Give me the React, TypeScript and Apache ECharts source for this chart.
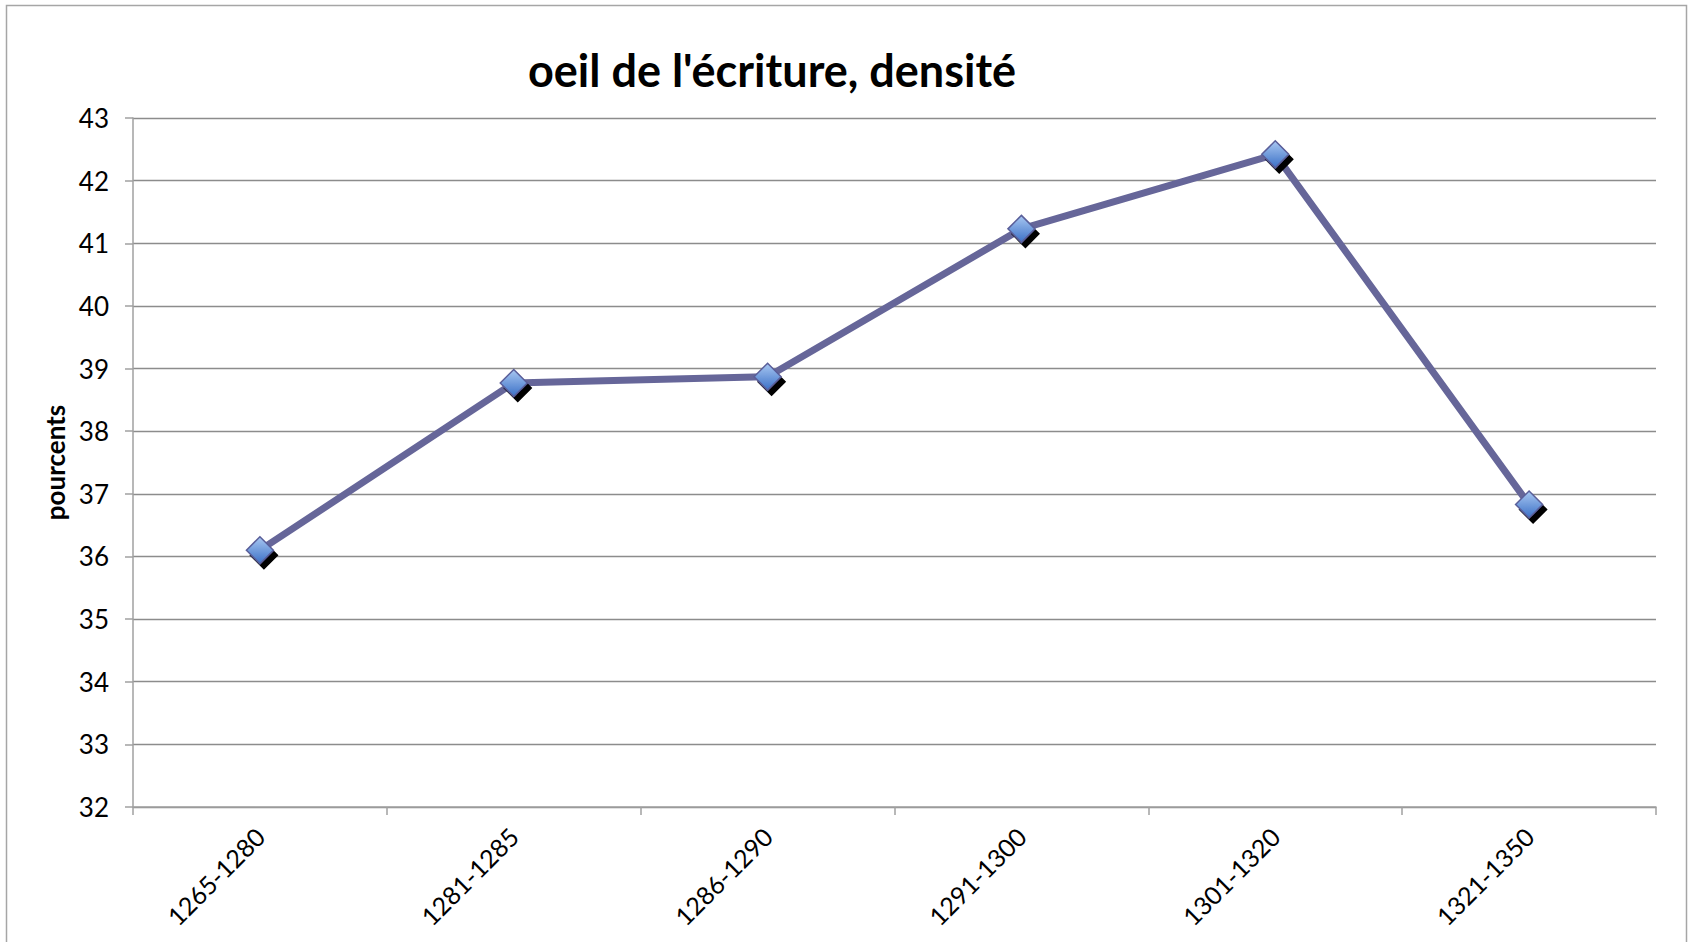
import React, { useEffect, useRef } from "react";
import * as echarts from "echarts";

const categories = ["1265-1280", "1281-1285", "1286-1290", "1291-1300", "1301-1320", "1321-1350"];
const values = [36.1, 38.77, 38.87, 41.23, 42.42, 36.83];
const yMin = 32;
const yMax = 43;
const yStep = 1;
const titleText = "oeil de l'écriture, densité";
const yAxisName = "pourcents";

export default function App() {
  const ref = useRef<HTMLDivElement>(null);
  useEffect(() => {
    document.body.style.margin = "0";
    const chart = echarts.init(ref.current!, null, { renderer: "svg" });
    const font = "Lato, 'Open Sans', sans-serif";
    chart.setOption({
      animation: false,
      backgroundColor: "#ffffff",
      title: {
        text: titleText,
        left: 767,
        top: 42,
        textAlign: "center",
        textStyle: { fontFamily: font, fontWeight: "bold", fontSize: 45, color: "#000" },
      },
      graphic: [
        {
          type: "rect",
          shape: { x: 6.5, y: 5.5, width: 1680, height: 980 },
          style: { fill: "none", stroke: "#a6a6a6", lineWidth: 1.5 },
          silent: true,
        },
      ],
      grid: { left: 133, right: 36, top: 118, bottom: 135, containLabel: false },
      xAxis: {
        type: "category",
        data: categories,
        boundaryGap: true,
        axisLine: { lineStyle: { color: "#a0a0a0", width: 1.5 } },
        axisTick: { show: true, length: 8, alignWithLabel: false, lineStyle: { color: "#a0a0a0", width: 1.5 } },
        axisLabel: {
          rotate: 45,
          margin: 25,
          fontFamily: font,
          fontSize: 25,
          color: "#000",
          interval: 0,
        },
        splitLine: { show: false },
      },
      yAxis: {
        type: "value",
        min: yMin,
        max: yMax,
        interval: yStep,
        name: yAxisName,
        nameLocation: "middle",
        nameGap: 64,
        nameRotate: 90,
        nameTextStyle: { fontFamily: font, fontWeight: "bold", fontSize: 26, color: "#000" },
        axisLine: { show: true, lineStyle: { color: "#a0a0a0", width: 1.5 } },
        axisTick: { show: true, length: 8, lineStyle: { color: "#a0a0a0", width: 1.5 } },
        axisLabel: { fontFamily: font, fontSize: 26, color: "#000", margin: 24 },
        splitLine: { show: true, lineStyle: { color: "#8c8c8c", width: 1.3 } },
      },
      series: [
        {
          type: "line",
          data: values,
          symbol: "diamond",
          symbolSize: 27,
          lineStyle: { color: "#666699", width: 7 },
          itemStyle: {
            color: new echarts.graphic.LinearGradient(0, 0, 0, 1, [
              { offset: 0, color: "#a9c8f2" },
              { offset: 1, color: "#3b70c6" },
            ]),
            borderColor: "#5a5e99",
            borderWidth: 1.5,
            shadowColor: "#000000",
            shadowBlur: 0,
            shadowOffsetX: 4,
            shadowOffsetY: 5,
          },
          z: 3,
        },
      ],
    });
    return () => chart.dispose();
  }, []);
  return <div ref={ref} style={{ width: 1692, height: 942 }} />;
}
